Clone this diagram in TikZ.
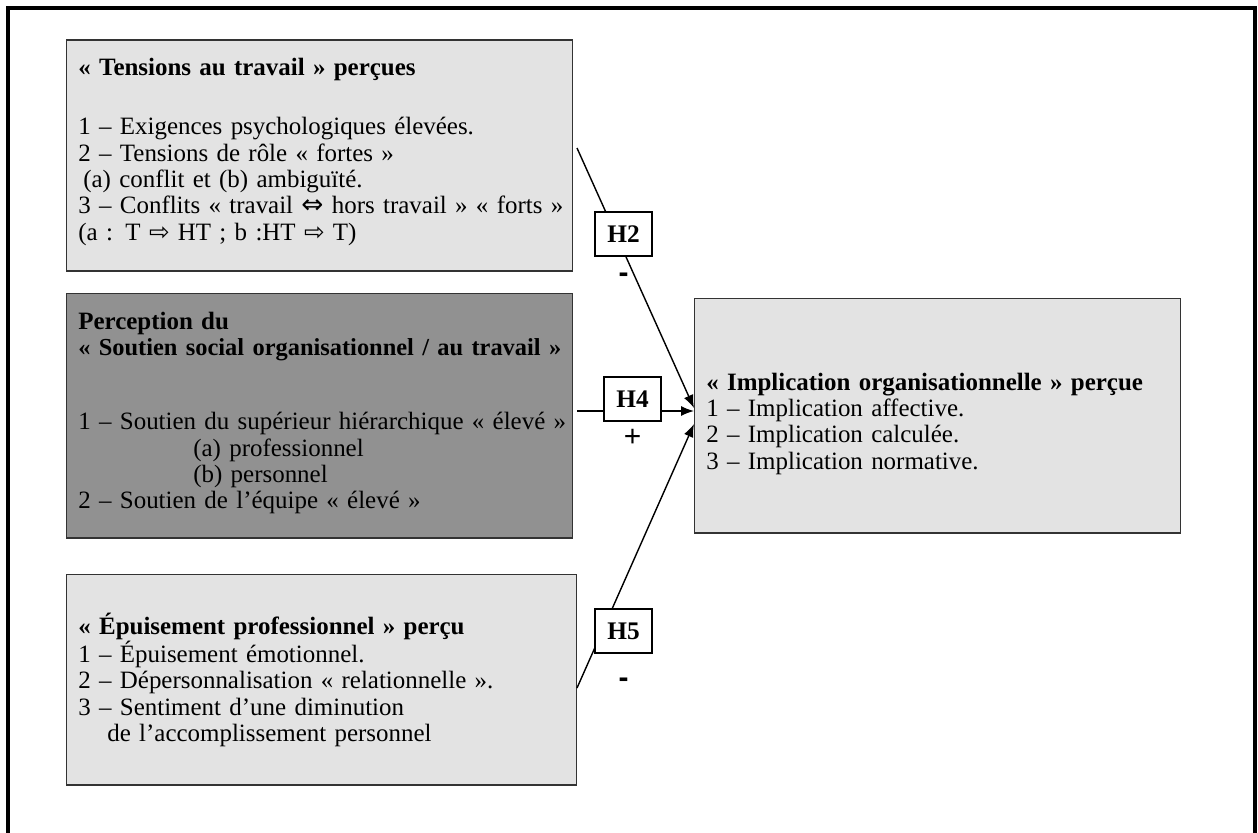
\documentclass[tikz,border=0pt]{standalone}
\usepackage{fontspec}
\setmainfont{Liberation Serif}
\newfontfamily\signfont{Liberation Sans}
\newfontfamily\arrowfont{DejaVu Sans}
\newcommand{\dblarr}{{\arrowfont\fontsize{15}{15}\selectfont ⇔}}
\newcommand{\whitearr}{{\arrowfont\fontsize{14}{15}\selectfont ⇨}}
\definecolor{lightbox}{HTML}{E3E3E3}
\definecolor{darkbox}{HTML}{919191}
\usetikzlibrary{arrows.meta}

\begin{document}
\begin{tikzpicture}[x=0.02cm, y=-0.02cm,
    box/.style = {draw=black!80, line width=0.6pt, inner sep=0pt},
    txt/.style = {anchor=base west, inner sep=0pt, text width=10cm, align=left, font=\fontsize{14.2}{15}\selectfont},
    hyp/.style = {draw, fill=white, line width=0.6pt, inner sep=0pt, minimum width=1.14cm, minimum height=0.88cm, font=\fontsize{14.4}{15}\selectfont\bfseries},
    sign/.style = {inner sep=0pt, font=\signfont\fontsize{17}{18}\selectfont},
    link/.style = {-{Latex[length=2.6mm,width=2mm]}, line width=0.8pt}]

  \useasboundingbox (0,0) rectangle (1258,832);
  \draw[line width=2.3pt] (8,8) rectangle (1255,900);

  % boxes
  \node[box, fill=lightbox] (tens) [minimum width=10.14cm, minimum height=4.62cm] at (319.5,155.5) {};
  \node[box, fill=darkbox] (sout) [minimum width=10.14cm, minimum height=4.9cm] at (319.5,415.5) {};
  \node[box, fill=lightbox] (epui) [minimum width=10.22cm, minimum height=4.22cm] at (321.5,679.5) {};
  \node[box, fill=lightbox] (impl) [minimum width=9.74cm, minimum height=4.7cm] at (937.5,415.5) {};

  % texts
  \node[txt] (tens-t) at (78,75) {\textbf{«~Tensions au travail~» perçues}\\[0.67cm]
    1 – Exigences psychologiques élevées.\\
    2 – Tensions de rôle «~fortes~»\\
    \hspace*{0.1cm}(a) conflit et (b) ambiguïté.\\
    3 – Conflits «~travail \dblarr{} hors travail~» «~forts~»\\
    (a : T \whitearr{} HT ; b :HT \whitearr{} T)};
  \node[txt] (sout-t) at (78,329) {\textbf{Perception du}\\
    {\fontsize{13.9}{15}\selectfont\textbf{«~Soutien social organisationnel / au travail~»}}\\[0.96cm]
    1 – Soutien du supérieur hiérarchique «~élevé~»\\
    \hspace*{2.3cm}(a) professionnel\\
    \hspace*{2.3cm}(b) personnel\\
    2 – Soutien de l’équipe «~élevé~»};
  \node[txt] (epui-t) at (78,634) {\textbf{«~Épuisement professionnel~» perçu}\\
    1 – Épuisement émotionnel.\\
    2 – Dépersonnalisation «~relationnelle~».\\
    3 – Sentiment d’une diminution\\
    \hspace*{0.58cm}de l’accomplissement personnel};
  \node[txt] (impl-t) at (706,390) {\textbf{«~Implication organisationnelle~» perçue}\\
    1 – Implication affective.\\
    2 – Implication calculée.\\
    3 – Implication normative.};

  % links
  \coordinate (s2) at (577,148);
  \coordinate (e2) at (694,408);
  \coordinate (s4) at (577,411);
  \coordinate (e4) at (694,411);
  \coordinate (s5) at (577,688);
  \coordinate (e5) at (694,424);
  \draw[link] (s2) -- (e2);
  \draw[link] (s4) -- (e4);
  \draw[link] (s5) -- (e5);

  % hypotheses
  \node[hyp] (h2) at (623.5,234) {H2};
  \node[hyp] (h4) at (632.5,399) {H4};
  \node[hyp] (h5) at (623.5,631) {H5};
  \node[sign] (m2) [below of=h2, node distance=8.8mm] {\bfseries -};
  \node[sign] (p4) [below of=h4, node distance=7.8mm] {+};
  \node[sign] (m5) [below of=h5, node distance=10.4mm] {\bfseries -};
\end{tikzpicture}
\end{document}
